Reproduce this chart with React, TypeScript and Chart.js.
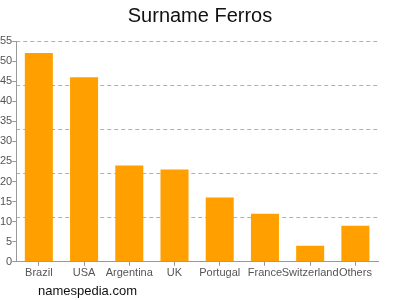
import React, { useEffect, useRef } from "react";
import { Chart, registerables } from "chart.js";

Chart.register(...registerables);

const categories = ["Brazil", "USA", "Argentina", "UK", "Portugal", "France", "Switzerland", "Others"];
const counts = [52, 46, 24, 23, 16, 12, 4, 9];
const titleText = "Surname Ferros";
const footerText = "namespedia.com";

const footerPlugin = {
  id: "footerText",
  afterDraw(chart: any) {
    const ctx = chart.ctx;
    ctx.save();
    ctx.font = "13px 'Liberation Sans', Arial, sans-serif";
    ctx.fillStyle = "#111";
    ctx.textBaseline = "middle";
    ctx.textAlign = "left";
    ctx.fillText(footerText, 38, 291);
    ctx.restore();
  },
};

export default function App() {
  const ref = useRef<HTMLCanvasElement>(null);
  useEffect(() => {
    if (!ref.current) return;
    const chart = new Chart(ref.current, {
      type: "bar",
      data: {
        labels: categories,
        datasets: [
          {
            data: counts,
            backgroundColor: "#FFA000",
            borderWidth: 0,
            barPercentage: 0.62,
            categoryPercentage: 1,
            yAxisID: "y",
          },
        ],
      },
      options: {
        animation: false,
        responsive: false,
        maintainAspectRatio: false,
        layout: { padding: { left: 0, right: 0, top: 0, bottom: 19 } },
        plugins: {
          legend: { display: false },
          tooltip: { enabled: false },
          title: {
            display: true,
            text: titleText,
            color: "#111",
            font: { size: 20, family: "'Liberation Sans', Arial, sans-serif", weight: "normal" },
            padding: { top: 4, bottom: 13 },
          },
        },
        scales: {
          x: {
            offset: true,
            grid: { display: true, drawOnChartArea: false, tickLength: 4, color: "#999", offset: false },
            border: { display: true, color: "#999" },
            ticks: {
              color: "#555",
              font: { size: 11, family: "'Liberation Sans', Arial, sans-serif" },
              maxRotation: 0,
              autoSkip: false,
              padding: 1,
            },
          },
          y: {
            min: 0,
            max: 55,
            grid: { display: true, drawOnChartArea: false, tickLength: 4, color: "#999" },
            border: { display: true, color: "#999" },
            ticks: {
              stepSize: 5,
              color: "#555",
              font: { size: 11, family: "'Liberation Sans', Arial, sans-serif" },
              padding: 0,
            },
          },
          yGrid: {
            position: "right",
            min: 0,
            max: 55,
            display: true,
            afterFit: (s: any) => {
              s.width = 22;
            },
            grid: {
              display: true,
              color: (c: any) => (c.tick && c.tick.value === 0 ? "rgba(0,0,0,0)" : "#b0b0b0"),
              drawTicks: false,
            },
            border: { display: false, dash: [4, 3] },
            ticks: { display: false, stepSize: 11 },
          },
        },
      },
      plugins: [footerPlugin],
    } as any);
    return () => chart.destroy();
  }, []);
  return (
    <div style={{ position: "fixed", left: 0, top: 0, width: 400, height: 300, background: "#fff" }}>
      <canvas ref={ref} width={400} height={300} style={{ width: 400, height: 300 }} />
    </div>
  );
}
